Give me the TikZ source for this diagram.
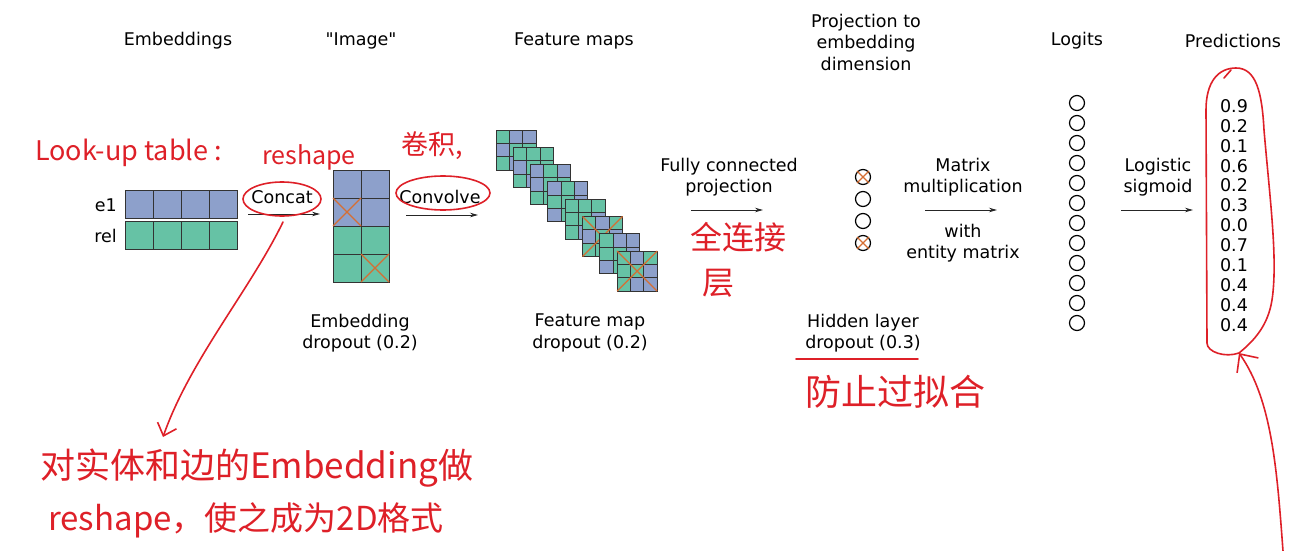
\documentclass[tikz,border=0pt]{standalone}
\usepackage{fontspec}
\setmainfont{DejaVu Sans}[Ligatures=TeXOff]
\newfontfamily\handfont{Noto Sans CJK SC}
\usetikzlibrary{arrows.meta}
\definecolor{embblue}{RGB}{141,160,203}
\definecolor{embgreen}{RGB}{102,194,165}
\definecolor{dropx}{RGB}{214,110,50}
\definecolor{pen}{RGB}{222,32,40}
\def\cross(#1,#2)(#3,#4){\draw[line width=1.3, color=dropx] (#1,#2) -- (#3,#4) (#1,#4) -- (#3,#2);}
\def\fmap(#1,#2)#3{\foreach \c [count=\i from 0] in {#3}{\pgfmathtruncatemacro\row{int(\i/3)}\pgfmathtruncatemacro\col{mod(\i,3)}\draw[cellline, fill=\c] ({#1+13.33*\col},{#2+13.33*\row}) rectangle ++(13.33,13.33);}}

\begin{document}
\begin{tikzpicture}[x=1pt, y=-1pt, font=\fontsize{17.5}{21.5}\selectfont,
    cellline/.style={draw=black!80, line width=0.9},
    unit/.style={draw=black, line width=1.2},
    flow/.style={-{Stealth[length=8, width=4.5]}, line width=0.8, draw=black!85},
    lbl/.style={align=center, inner sep=0},
    hand/.style={draw=pen, line width=1.6, line cap=round},
    note/.style={text=pen, inner sep=0, anchor=west}]
			%%%%% START %%%%%
			\useasboundingbox (0,0) rectangle (1302,551);
			
			\node[lbl] (tEmb) at (178, 41) {Embeddings};
			\node[lbl] (tImg) at (361, 41) {"Image"};
			\node[lbl] (tFeat) at (574, 41) {Feature maps};
			\node[lbl] (tProj) at (866, 42) {Projection to\\embedding\\dimension};
			\node[lbl] (tLog) at (1077, 41) {Logits};
			\node[lbl] (tPred) at (1233, 41) {Predictions};
			
			\node[lbl, anchor=east] (e1) at (117, 205) {e1};
			\node[lbl, anchor=east] (rel) at (117, 236) {rel};
			\foreach \i in {0,...,3} {
				\draw[cellline, fill=embblue] ({125+28*\i}, 190) rectangle ++(28,28);
				\draw[cellline, fill=embgreen] ({125+28*\i}, 221) rectangle ++(28,28);
			}
			
			\node[lbl] (concat) at (282, 197) {Concat};
			\coordinate (concatA) at (248, 214);
			\coordinate (concatB) at (320, 214);
			\draw[flow] (concatA) -- (concatB);
			
			\foreach \r/\c in {0/embblue, 1/embblue, 2/embgreen, 3/embgreen}
				\foreach \j in {0,1}
					\draw[cellline, fill=\c] ({333+28*\j}, {170+28*\r}) rectangle ++(28,28);
			\cross(333,198)(361,226)
			\cross(361,254)(389,282)
			
			\node[lbl] (convolve) at (440, 197) {Convolve};
			\coordinate (convA) at (406, 215);
			\coordinate (convB) at (478, 215);
			\draw[flow] (convA) -- (convB);
			
			\fmap(496,130){embgreen,embblue,embblue,embblue,embgreen,embgreen,embgreen,embblue,embgreen}
			\fmap(513.3,147.3){embgreen,embgreen,embgreen,embblue,embgreen,embgreen,embgreen,embblue,embgreen}
			\fmap(530.6,164.6){embblue,embgreen,embblue,embblue,embgreen,embgreen,embgreen,embgreen,embblue}
			\fmap(547.9,181.9){embblue,embgreen,embblue,embgreen,embgreen,embblue,embblue,embgreen,embgreen}
			\fmap(565.2,199.2){embgreen,embgreen,embgreen,embgreen,embgreen,embblue,embgreen,embblue,embgreen}
			\fmap(582.5,216.5){embgreen,embblue,embgreen,embblue,embgreen,embblue,embgreen,embgreen,embblue}
			\cross(582.5,216.5)(622.5,256.5)
			\fmap(599.8,233.8){embgreen,embblue,embblue,embgreen,embgreen,embblue,embblue,embgreen,embblue}
			\fmap(617.1,251.1){embgreen,embblue,embgreen,embgreen,embgreen,embblue,embgreen,embblue,embblue}
			\cross(617.1,251.1)(657.1,291.1)
			
			\node[lbl] (fc) at (729, 177) {Fully connected\\projection};
			\coordinate (fcA) at (691, 210);
			\coordinate (fcB) at (763, 210);
			\draw[flow] (fcA) -- (fcB);
			
			\foreach \y in {177,199,221,243}
				\draw[unit] (863, \y) circle (7.5);
			\cross(857,171)(869,183)
			\cross(857,237)(869,249)
			
			\node[lbl] (matmul) at (963, 177) {Matrix\\multiplication};
			\node[lbl] (entity) at (963, 243) {with\\entity matrix};
			\coordinate (mmA) at (925, 210);
			\coordinate (mmB) at (997, 210);
			\draw[flow] (mmA) -- (mmB);
			
			\foreach \i in {0,...,11}
				\draw[unit] (1077, {103+20*\i}) circle (7.5);
			
			\node[lbl] (sigmoid) at (1158, 177) {Logistic\\sigmoid};
			\coordinate (sgA) at (1121, 210);
			\coordinate (sgB) at (1193, 210);
			\draw[flow] (sgA) -- (sgB);
			
			\foreach \v [count=\i from 0] in {0.9,0.2,0.1,0.6,0.2,0.3,0.0,0.7,0.1,0.4,0.4,0.4}
				\node[lbl] (p\i) at (1234, {106+19.9*\i}) {\v};
			
			\node[lbl] (embdrop) at (360, 333) {Embedding\\dropout (0.2)};
			\node[lbl] (featdrop) at (590, 333) {Feature map\\dropout (0.2)};
			\node[lbl] (hiddrop) at (863, 333) {Hidden layer\\dropout (0.3)};
			
			%%%%% NOTES %%%%%
			
			\node[note, font=\handfont\fontsize{27}{30}\selectfont] (nLook) at (35, 153) {Look-up table :};
			\node[note, font=\handfont\fontsize{25}{28}\selectfont] (nReshape) at (262, 157) {reshape};
			\node[note, font=\handfont\fontsize{27}{30}\selectfont] (nConv) at (401, 146) {卷积,};
			\node[note, font=\handfont\fontsize{32}{34}\selectfont] (nFc) at (690, 237) {全连接};
			\node[note, font=\handfont\fontsize{32}{34}\selectfont] (nLayer) at (702, 283) {层};
			\node[note, font=\handfont\fontsize{36}{38}\selectfont] (nOver) at (805, 392) {防止过拟合};
			\node[note, font=\handfont\fontsize{35}{38}\selectfont] (nRow1) at (40, 468) {对实体和边的Embedding做};
			\node[note, font=\handfont\fontsize{33}{36}\selectfont] (nRow2) at (48, 520) {reshape，使之成为2D格式};
			
			\draw[hand] (282, 199) ellipse (39 and 17);
			\draw[hand] (443, 193) ellipse (47 and 17);
			\draw[hand] (796, 359) -- (918, 359);
			
			\coordinate (cFrom) at (283, 222);
			\coordinate (cTo) at (163, 437);
			\draw[hand, -{Straight Barb[length=11, width=20]}] (cFrom) .. controls (250, 290) and (190, 360) .. (cTo);
			
			\coordinate (lpTip) at (1239, 353);
			\coordinate (lpEnd) at (1283, 551);
			\draw[hand] (lpTip) .. controls (1225, 358) and (1207, 352) .. (1207, 343) -- (1206, 110)
				.. controls (1206, 82) and (1218, 68) .. (1236, 68)
				.. controls (1256, 68) and (1262, 92) .. (1264, 130)
				.. controls (1270, 200) and (1278, 260) .. (1272, 300)
				.. controls (1268, 325) and (1255, 340) .. (lpTip);
			\draw[hand] (1224, 78) -- (1231, 70);
			\draw[hand, -{Straight Barb[length=14, width=26]}] (lpEnd) .. controls (1277, 470) and (1272, 400) .. (lpTip);
			
			%%%%% END %%%%%
\end{tikzpicture}
\end{document}
